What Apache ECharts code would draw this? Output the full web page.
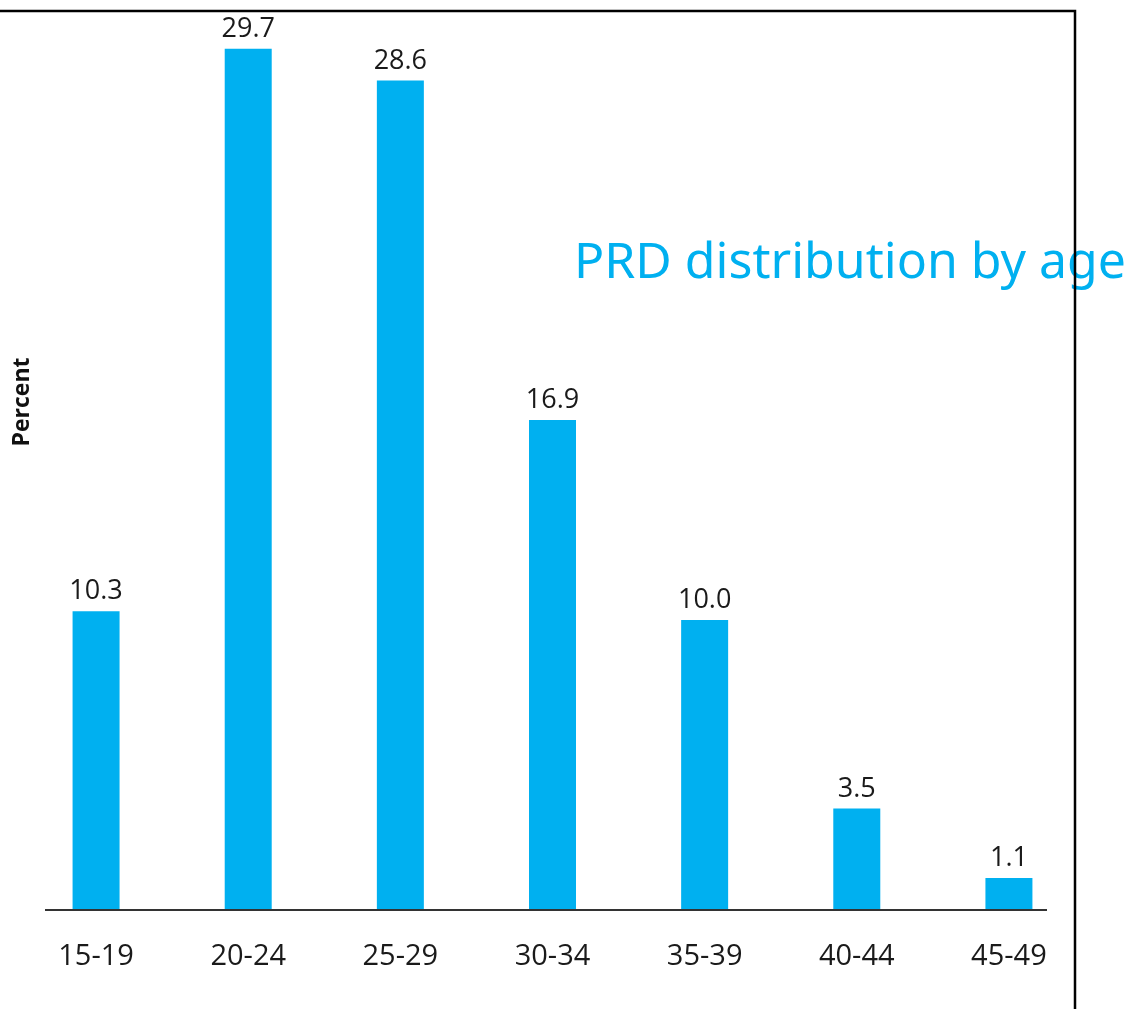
<!DOCTYPE html>
<html>
<head>
<meta charset="utf-8">
<script src="https://cdn.jsdelivr.net/npm/echarts@6/dist/echarts.min.js"></script>
<style>
html, body { margin: 0; padding: 0; background: #fff; }
#container { width: 1132px; height: 1009px; }
</style>
</head>
<body>
<div id="container"></div>
<script>
var ageGroups = ['15-19', '20-24', '25-29', '30-34', '35-39', '40-44', '45-49'];
var percents = [10.3, 29.7, 28.6, 16.9, 10.0, 3.5, 1.1];

var dom = document.getElementById("container");
var myChart = echarts.init(dom);

var option = {
    backgroundColor: '#fff',
    animation: false,
    title: {
        text: 'PRD distribution by age',
        left: 569,
        top: 234,
        textStyle: {
            color: '#00b0f0',
            fontFamily: 'Noto Sans',
            fontWeight: 'normal',
            fontSize: 50
        }
    },
    grid: {
        left: 20,
        right: 47,
        top: 40,
        bottom: 99
    },
    xAxis: {
        type: 'category',
        data: ageGroups,
        axisLine: { show: false },
        axisTick: { show: false },
        axisLabel: {
            margin: 32,
            color: '#1a1a1a',
            fontFamily: 'Open Sans',
            fontSize: 29
        }
    },
    yAxis: {
        type: 'value',
        min: 0,
        max: 30,
        show: false
    },
    series: [{
        type: 'bar',
        data: percents,
        barWidth: 47,
        itemStyle: { color: '#00b0f0' },
        label: {
            show: true,
            position: 'top',
            distance: 6,
            color: '#1a1a1a',
            fontFamily: 'Open Sans',
            fontSize: 27,
            formatter: function (p) { return p.value.toFixed(1); }
        }
    }],
    graphic: [
        {
            type: 'line',
            shape: { x1: 45, y1: 910, x2: 1047, y2: 910 },
            style: { stroke: '#333', lineWidth: 2 },
            z: 10
        },
        {
            type: 'text',
            x: 22,
            y: 402,
            rotation: Math.PI / 2,
            style: {
                text: 'Percent',
                fill: '#111',
                font: 'bold 23px "Open Sans"',
                align: 'center',
                verticalAlign: 'middle'
            }
        },
        {
            type: 'polyline',
            shape: { points: [[0, 11], [1075, 11], [1075, 1009]] },
            style: { stroke: '#000', lineWidth: 2.5, fill: null },
            z: 20
        }
    ]
};

myChart.setOption(option, true);
window.onresize = function () {
    myChart.resize();
};
</script>
</body>
</html>
